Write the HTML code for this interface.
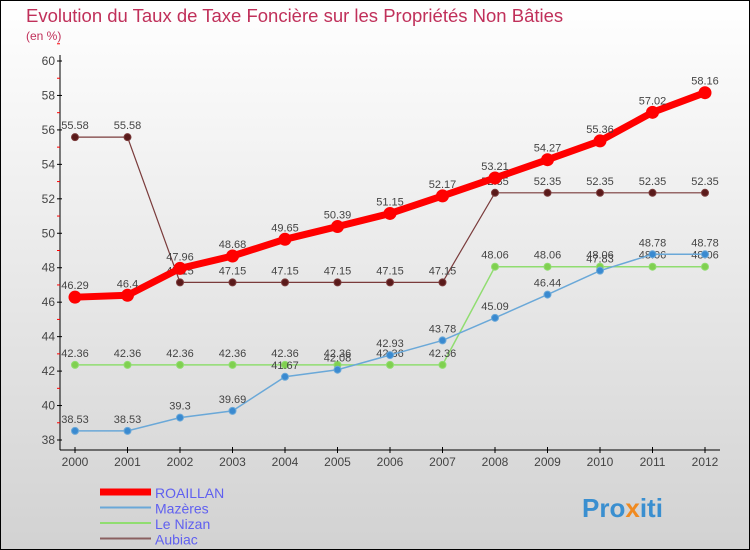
<!DOCTYPE html>
<html><head><meta charset="utf-8"><style>
html,body{margin:0;padding:0}
body{width:750px;height:550px;overflow:hidden;font-family:"Liberation Sans",sans-serif}
svg{display:block}
</style></head><body>
<svg id="c" width="750" height="550" xmlns="http://www.w3.org/2000/svg">
<defs><linearGradient id="bg" x1="0" y1="0" x2="0" y2="1"><stop offset="0" stop-color="#ffffff"/><stop offset="1" stop-color="#d2d2d2"/></linearGradient></defs>
<rect x="0.5" y="0.5" width="749" height="549" fill="url(#bg)" stroke="#000"/>
<text x="26" y="22" font-size="18.5" fill="#c0305a">Evolution du Taux de Taxe Foncière sur les Propriétés Non Bâties</text>
<text x="26" y="40" font-size="12" fill="#c0305a">(en %)</text>
<g id="axes"></g><g id="series"></g><g id="legend"></g>
<text x="582" y="517" font-size="26" font-weight="bold" fill="#3a8fd0">Pro<tspan fill="#f08a20">x</tspan>iti</text>
</svg>
<script>
const years=[2000,2001,2002,2003,2004,2005,2006,2007,2008,2009,2010,2011,2012];
const roaillan=[46.29,46.4,47.96,48.68,49.65,50.39,51.15,52.17,53.21,54.27,55.36,57.02,58.16];
const mazeres=[38.53,38.53,39.3,39.69,41.67,42.08,42.93,43.78,45.09,46.44,47.83,48.78,48.78];
const nizan=[42.36,42.36,42.36,42.36,42.36,42.36,42.36,42.36,48.06,48.06,48.06,48.06,48.06];
const aubiac=[55.58,55.58,47.15,47.15,47.15,47.15,47.15,47.15,52.35,52.35,52.35,52.35,52.35];
const yTicks=[38,40,42,44,46,48,50,52,54,56,58,60];
const NS="http://www.w3.org/2000/svg";
const X=i=>75+i*52.5;
const Y=v=>440-(v-38)*(379/22);
function mk(tag,attrs,parent){const e=document.createElementNS(NS,tag);for(const k in attrs)e.setAttribute(k,attrs[k]);parent.appendChild(e);return e;}
const ax=document.getElementById('axes');
let a=mk('line',{x1:60,y1:55,x2:60,y2:450,stroke:'#000'},ax);


a=mk('line',{x1:60,y1:450,x2:720,y2:450,stroke:'#000'},ax);


yTicks.forEach(v=>{
 mk('line',{x1:57,y1:Y(v),x2:62,y2:Y(v),stroke:'#000'},ax);
 mk('line',{x1:57,y1:Y(v+1),x2:60,y2:Y(v+1),stroke:'#f00'},ax);
 const t=mk('text',{x:55,y:Y(v)+4,'font-size':12,'text-anchor':'end',fill:'#444'},ax);t.textContent=v;
 
 
});
years.forEach((yr,i)=>{
 mk('line',{x1:X(i),y1:447,x2:X(i),y2:453,stroke:'#000'},ax);
 const t=mk('text',{x:X(i),y:466,'font-size':12,'text-anchor':'middle',fill:'#444'},ax);t.textContent=yr;
 
 
});
const S=document.getElementById('series');
function draw(vals,color,w,r,name,dot){
 const g=mk('g',{},S);
 
 
 const p=mk('polyline',{points:vals.map((v,i)=>X(i)+','+Y(v)).join(' '),fill:'none',stroke:color,'stroke-width':w},g);
 
 
 vals.forEach((v,i)=>{
  const c=mk('circle',{cx:X(i),cy:Y(v),r:r,fill:dot,stroke:color,'stroke-width':1},g);
  
  
  const t=mk('text',{x:X(i),y:Y(v)-8,'font-size':11,'text-anchor':'middle',fill:'#444'},g);t.textContent=v;
  
  
 });
}
draw(aubiac,'#7a3b3b',1.2,3.5,'aubiac','#5a1a1a');
draw(nizan,'#90dd70',1.5,3.5,'le-nizan','#80d050');
draw(mazeres,'#6aa8d8',1.5,3.5,'mazeres','#3a8ad0');
draw(roaillan,'#f00',7,6,'roaillan','#f00');
const L=document.getElementById('legend');
[['ROAILLAN','#f00',7],['Mazères','#6aa8d8',2],['Le Nizan','#90dd70',2],['Aubiac','#8a6060',2]].forEach((d,i)=>{
 const y=492+i*15.5;
 const l=mk('line',{x1:100,y1:y,x2:151,y2:y,stroke:d[1],'stroke-width':d[2]},L);
 
 
 const t=mk('text',{x:155,y:y+6,'font-size':14,fill:'#6060f0'},L);t.textContent=d[0];
 
 
});
</script>
</body></html>
